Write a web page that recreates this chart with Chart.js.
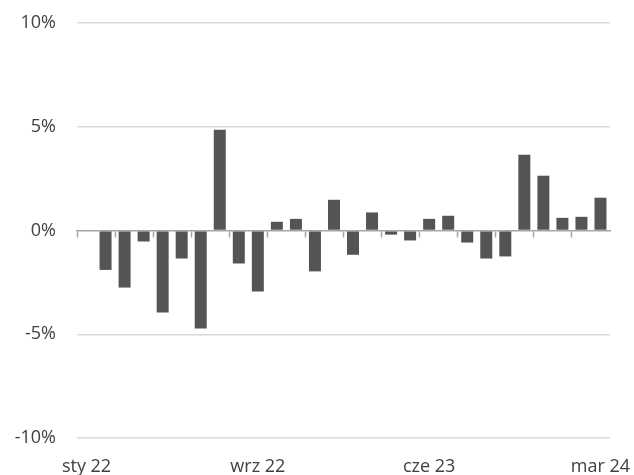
<!DOCTYPE html>
<html>
<head>
<meta charset="utf-8">
<script src="https://cdn.jsdelivr.net/npm/chart.js@4/dist/chart.umd.min.js"></script>
<style>
  html, body { margin: 0; padding: 0; background: #fff; }
  #wrap { width: 634px; height: 475px; position: relative; }
</style>
</head>
<body>
<div id="wrap"><canvas id="c" width="634" height="475"></canvas></div>
<script>
// Category labels (monthly), as printed on the axis
const categories = [
  "sty 22", "sty 22", "lut 22", "mar 22", "kwi 22", "maj 22", "cze 22", "lip 22", "sie 22",
  "wrz 22", "paź 22", "lis 22", "gru 22", "sty 23", "lut 23", "mar 23", "kwi 23", "maj 23",
  "cze 23", "lip 23", "sie 23", "wrz 23", "paź 23", "lis 23", "gru 23", "sty 24", "lut 24",
  "mar 24"
];
// Month-on-month change, %
const changeValues = [
  null, -1.9, -2.75, -0.53, -3.95, -1.35, -4.72, 4.85, -1.59,
  -2.94, 0.42, 0.56, -1.97, 1.48, -1.17, 0.87, -0.2, -0.48,
  0.56, 0.71, -0.58, -1.35, -1.25, 3.65, 2.64, 0.61, 0.66,
  1.58
];
const shownLabelIndices = [0, 9, 18, 27];
const yTicks = [-10, -5, 0, 5, 10];

const FONT = { family: "'Open Sans', 'Noto Sans', sans-serif", size: 18 };
const TEXT = '#404040';

new Chart(document.getElementById('c'), {
  type: 'bar',
  data: {
    labels: categories,
    datasets: [{
      data: changeValues,
      backgroundColor: '#545454',
      borderWidth: 0,
      categoryPercentage: 1.0,
      barPercentage: 0.63
    }]
  },
  options: {
    responsive: false,
    animation: false,
    devicePixelRatio: 1,
    layout: { padding: { left: 0, right: 24, top: 23, bottom: 0 } },
    plugins: { legend: { display: false }, tooltip: { enabled: false } },
    scales: {
      x: {
        type: 'category',
        position: { y: 0 },
        offset: true,
        grid: {
          offset: true,
          drawOnChartArea: false,
          drawTicks: true,
          tickLength: 6,
          tickWidth: 1.5,
          tickColor: (ctx) => (ctx.index % 2 === 0 ? '#A6A6A6' : 'rgba(0,0,0,0)')
        },
        border: { display: true, color: '#A6A6A6', width: 1.5, z: 1 },
        ticks: { display: false, autoSkip: false }
      },
      x2: {
        type: 'category',
        position: 'bottom',
        labels: categories,
        offset: true,
        grid: { display: false, drawTicks: false },
        border: { display: false },
        ticks: {
          autoSkip: false,
          maxRotation: 0,
          padding: 18,
          color: TEXT,
          font: FONT,
          callback: function (val, idx) {
            return shownLabelIndices.includes(idx) ? categories[idx] : '';
          }
        },
        afterFit: (s) => { s.height = 37; s.paddingLeft = 0; s.paddingRight = 0; }
      },
      y: {
        min: -10,
        max: 10,
        afterBuildTicks: (s) => { s.ticks = yTicks.map(v => ({ value: v })); },
        grid: {
          drawTicks: false,
          color: (ctx) => (ctx.tick && ctx.tick.value === 0 ? 'rgba(0,0,0,0)' : '#D9D9D9'),
          lineWidth: 1.5
        },
        border: { display: false },
        ticks: {
          padding: 21,
          color: TEXT,
          font: FONT,
          callback: (v) => v + '%'
        },
        afterFit: (s) => { s.width = 77; s.paddingTop = 0; s.paddingBottom = 0; }
      }
    }
  }
});
</script>
</body>
</html>
